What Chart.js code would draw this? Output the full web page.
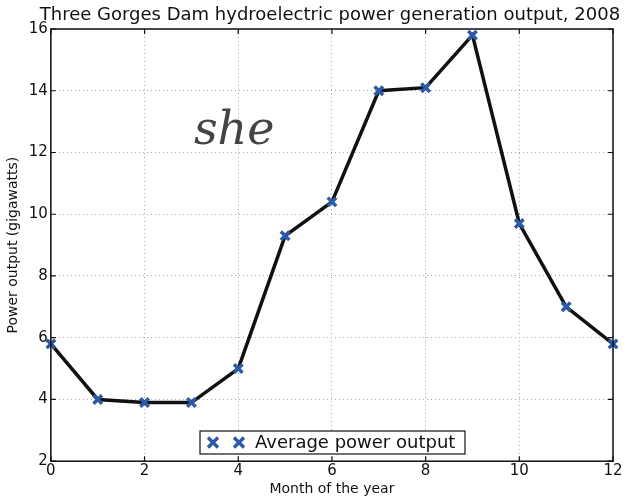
<!DOCTYPE html>
<html>
<head>
<meta charset="utf-8">
<script src="https://cdn.jsdelivr.net/npm/chart.js@4/dist/chart.umd.min.js"></script>
<style>
  html, body { margin: 0; padding: 0; background: #fff; }
  #wrap { width: 627px; height: 499px; }
</style>
</head>
<body>
<div id="wrap"><canvas id="mainChart"></canvas></div>
<script>
const months = [0, 1, 2, 3, 4, 5, 6, 7, 8, 9, 10, 11, 12];
const output = [5.8, 4.0, 3.9, 3.9, 5.0, 9.3, 10.4, 14.0, 14.1, 15.8, 9.7, 7.0, 5.8];
const seriesName = "Average power output";
const chartTitle = "Three Gorges Dam hydroelectric power generation output, 2008";
const xTitle = "Month of the year";
const yTitle = "Power output (gigawatts)";
const note = "she";

const FONT = "'DejaVu Sans', sans-serif";
const BLUE = "#2d5aa6";

/* title, box around the axes, inward ticks, legend box and the pencil note */
const frame = {
  id: "frame",
  afterDraw(chart) {
    const { ctx, chartArea: a, scales } = chart;
    ctx.save();

    // title sits centred over the axes box
    ctx.fillStyle = "#111";
    ctx.font = "18px " + FONT;
    ctx.textAlign = "center";
    ctx.textBaseline = "middle";
    ctx.fillText(chartTitle, (a.left + a.right) / 2 - 2, 15);

    ctx.strokeStyle = "#111";
    ctx.lineWidth = 1.5;
    ctx.strokeRect(a.left, a.top, a.right - a.left, a.bottom - a.top);

    ctx.lineWidth = 1.2;
    scales.x.ticks.forEach(t => {
      const px = scales.x.getPixelForValue(t.value);
      ctx.beginPath();
      ctx.moveTo(px, a.bottom); ctx.lineTo(px, a.bottom - 5);
      ctx.moveTo(px, a.top); ctx.lineTo(px, a.top + 5);
      ctx.stroke();
    });
    scales.y.ticks.forEach(t => {
      const py = scales.y.getPixelForValue(t.value);
      ctx.beginPath();
      ctx.moveTo(a.left, py); ctx.lineTo(a.left + 5, py);
      ctx.moveTo(a.right, py); ctx.lineTo(a.right - 5, py);
      ctx.stroke();
    });

    // legend, lower centre inside the axes
    const bx = 200, by = 431, bw = 265, bh = 23;
    ctx.fillStyle = "#fff";
    ctx.fillRect(bx, by, bw, bh);
    ctx.strokeStyle = "#111";
    ctx.lineWidth = 1.2;
    ctx.strokeRect(bx, by, bw, bh);
    const cy = by + bh / 2;
    [213, 239].forEach(mx => {
      ctx.strokeStyle = BLUE;
      ctx.lineWidth = 3.5;
      ctx.beginPath();
      ctx.moveTo(mx - 5, cy - 5); ctx.lineTo(mx + 5, cy + 5);
      ctx.moveTo(mx - 5, cy + 5); ctx.lineTo(mx + 5, cy - 5);
      ctx.stroke();
    });
    ctx.fillStyle = "#111";
    ctx.font = "18px " + FONT;
    ctx.textAlign = "left";
    ctx.fillText(seriesName, 255, cy + 1);

    // handwritten note
    ctx.font = "italic 300 46px 'DejaVu Serif', serif";
    ctx.fillStyle = "#444";
    ctx.fillText(note, 194, 132);
    ctx.restore();
  }
};

new Chart(document.getElementById("mainChart"), {
  type: "line",
  data: {
    labels: months,
    datasets: [{
      label: seriesName,
      data: months.map((m, i) => ({ x: m, y: output[i] })),
      borderColor: "#111",
      borderWidth: 3.5,
      tension: 0,
      pointStyle: "crossRot",
      pointRadius: 6,
      pointBorderWidth: 3.5,
      pointBorderColor: BLUE,
      pointBackgroundColor: BLUE,
      clip: false
    }]
  },
  options: {
    responsive: true,
    maintainAspectRatio: false,
    animation: false,
    layout: { padding: { left: 5, right: 14, top: 29, bottom: 1 } },
    plugins: {
      legend: { display: false },
      tooltip: { enabled: false },
      title: { display: false }
    },
    scales: {
      x: {
        type: "linear",
        min: 0, max: 12,
        ticks: { stepSize: 2, color: "#111", font: { family: FONT, size: 15 }, padding: 1 },
        grid: { color: "#aaa", lineWidth: 1, drawTicks: false },
        border: { display: true, dash: [1, 3], color: "#aaa" },
        title: { display: true, text: xTitle, color: "#111", font: { family: FONT, size: 14 }, padding: { top: 0, bottom: 0 } }
      },
      y: {
        min: 2, max: 16,
        ticks: { stepSize: 2, color: "#111", font: { family: FONT, size: 15 }, padding: 3 },
        grid: { color: "#aaa", lineWidth: 1, drawTicks: false },
        border: { display: true, dash: [1, 3], color: "#aaa" },
        title: { display: true, text: yTitle, color: "#111", font: { family: FONT, size: 14 }, padding: { top: 0, bottom: 4 } }
      }
    }
  },
  plugins: [frame]
});
</script>
</body>
</html>
